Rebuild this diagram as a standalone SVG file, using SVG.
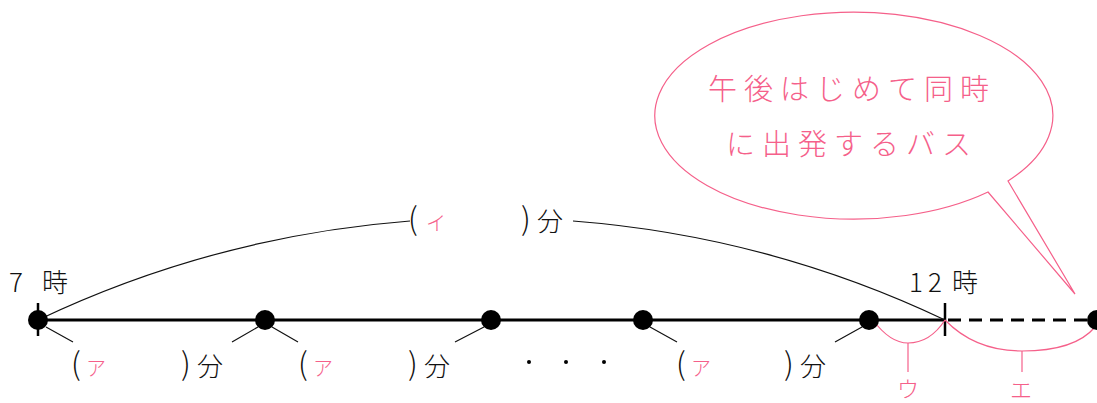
<svg xmlns="http://www.w3.org/2000/svg" width="1097" height="403" viewBox="0 0 1097 403">
<style>
.t{font-family:"Noto Sans CJK JP","Noto Sans",sans-serif;font-weight:300;fill:#111}
.p{font-family:"Noto Sans CJK JP","Noto Sans",sans-serif;font-weight:300;fill:#f5608a}
.thin{fill:none;stroke:#111;stroke-width:1.2}
.pk{fill:none;stroke:#f5608a;stroke-width:1.2}
.dot{fill:#000}
.par{font-size:31px}
.ka{font-size:20px}
.fn{font-size:26px}
</style>
<rect width="1097" height="403" fill="#fff"/>
<g id="bubble">
<path class="pk" d="M988,192 L1075,294 L1008,181 A199,103.5 0 1 0 988,192 Z" fill="#fff"/>
<text class="p" x="852" y="100" font-size="29" text-anchor="middle" letter-spacing="7">午後はじめて同時</text>
<text class="p" x="852" y="155" font-size="29" text-anchor="middle" letter-spacing="7">に出発するバス</text>
</g>
<g id="connectors">
<line x1="38" y1="320" x2="945" y2="320" stroke="#000" stroke-width="3"/>
<line x1="948" y1="320" x2="1097" y2="320" stroke="#000" stroke-width="3" stroke-dasharray="13,8"/>
<line x1="38" y1="303" x2="38" y2="336" stroke="#000" stroke-width="2.5"/>
<line x1="945" y1="303" x2="945" y2="336" stroke="#000" stroke-width="2.5"/>
<path class="thin" d="M38,320 A1057.7,1057.7 0 0 1 410,221"/>
<path class="thin" d="M573,221 A1057.7,1057.7 0 0 1 945,320"/>
<path class="thin" d="M46,327 L73,342 M232,342 L258,327"/>
<path class="thin" d="M272,327 L298,342 M455,342 L484,327"/>
<path class="thin" d="M650,327 L677,342 M835,342 L862,327"/>
<path class="pk" d="M873,320 Q890,343 908,343 Q930,343 945,320"/>
<line class="pk" x1="908" y1="343" x2="908" y2="372"/>
<path class="pk" d="M945,320 Q975,351 1022,351 Q1075,351 1095,327"/>
<line class="pk" x1="1022" y1="351" x2="1022" y2="372"/>
</g>
<g id="dots">
<circle class="dot" cx="38" cy="320" r="10"/>
<circle class="dot" cx="265" cy="320" r="10"/>
<circle class="dot" cx="491" cy="320" r="10"/>
<circle class="dot" cx="643" cy="320" r="10"/>
<circle class="dot" cx="869" cy="320" r="10"/>
<circle class="dot" cx="1097" cy="320" r="10"/>
<circle class="dot" cx="529" cy="362" r="2"/>
<circle class="dot" cx="566" cy="362" r="2"/>
<circle class="dot" cx="604" cy="362" r="2"/>
</g>
<g id="labels">
<text class="t" x="9" y="292" font-size="26">7</text>
<text class="t" x="42" y="292" font-size="26">時</text>
<text class="t" x="909" y="292" font-size="26" letter-spacing="5">12</text>
<text class="t" x="952" y="292" font-size="26">時</text>
<text class="t par" x="408" y="230">(</text>
<text class="p ka" x="426" y="231">イ</text>
<text class="t par" x="521" y="230">)</text>
<text class="t fn" x="537" y="231">分</text>
<text class="t par" x="71" y="375">(</text>
<text class="p ka" x="86" y="376">ア</text>
<text class="t par" x="181" y="375">)</text>
<text class="t fn" x="197" y="376">分</text>
<text class="t par" x="298" y="375">(</text>
<text class="p ka" x="313" y="376">ア</text>
<text class="t par" x="408" y="375">)</text>
<text class="t fn" x="424" y="376">分</text>
<text class="t par" x="676" y="375">(</text>
<text class="p ka" x="691" y="376">ア</text>
<text class="t par" x="784" y="375">)</text>
<text class="t fn" x="800" y="376">分</text>
<text class="p" x="908" y="397" font-size="22" text-anchor="middle">ウ</text>
<text class="p" x="1021" y="398" font-size="22" text-anchor="middle">エ</text>
</g>
</svg>
